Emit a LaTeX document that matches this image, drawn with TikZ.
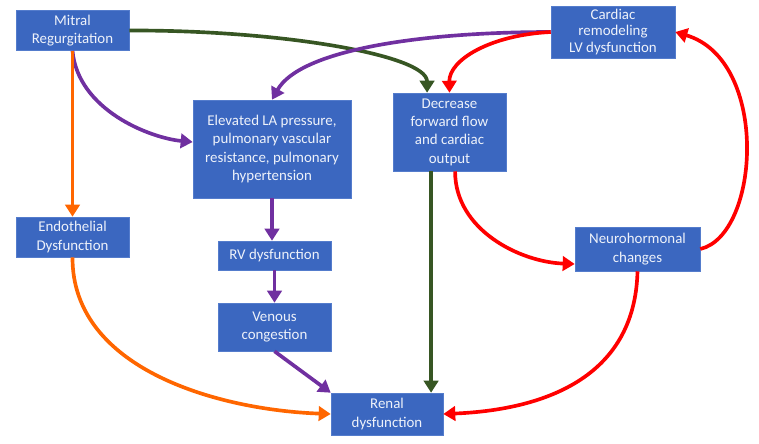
\documentclass[tikz,border=0pt]{standalone}
\usepackage{fontspec}
\setmainfont{Carlito}
\usetikzlibrary{arrows.meta, positioning}
\definecolor{boxblue}{RGB}{59,103,192}
\definecolor{boxedge}{RGB}{84,124,204}
\definecolor{boxtext}{RGB}{238,242,250}
\definecolor{mrpurple}{RGB}{112,48,160}
\definecolor{mrgreen}{RGB}{55,86,35}
\definecolor{mrorange}{RGB}{255,102,0}
\definecolor{mrred}{RGB}{255,0,0}
\tikzset{
    block/.style={rectangle, draw=boxedge, fill=boxblue, text=boxtext, align=center, inner sep=1pt, font=\fontsize{10.6}{13}\selectfont},
    link/.style={-{Triangle[length=3mm, width=3.6mm]}, line width=2.6pt}
}

\begin{document}
\begin{tikzpicture}[
    x=0.025cm, y=-0.025cm,
    volume/.style={link, color=mrpurple},
    forward/.style={link, color=mrgreen},
    vascular/.style={link, color=mrorange},
    neuro/.style={link, color=mrred}
]
    \useasboundingbox (0,0) rectangle (759,443);

    % Boxes
    \node[block, minimum width=2.825cm, minimum height=1cm] (mitral) at (72.5,30.5) {Mitral\\Regurgitation};
    \node[block, minimum width=3.95cm, minimum height=2.45cm] (elevated) at (272,149) {Elevated LA pressure,\\pulmonary vascular\\resistance, pulmonary\\hypertension};
    \node[block, minimum width=3.1cm, minimum height=1.3cm, font=\fontsize{10.6}{12}\selectfont] (cardiac) at (613,32) {Cardiac\\remodeling\\LV dysfunction};
    \node[block, minimum width=2.825cm, minimum height=1.95cm] (decrease) at (449.5,132) {Decrease\\forward flow\\and cardiac\\output};
    \node[block, minimum width=2.825cm, minimum height=1cm] (endothelial) at (72.5,237) {Endothelial\\Dysfunction};
    \node[block, minimum width=2.825cm, minimum height=0.725cm] (rv) at (274.5,255.5) {RV dysfunction};
    \node[block, minimum width=2.825cm, minimum height=1.2cm] (venous) at (274.5,327) {Venous\\congestion};
    \node[block, minimum width=3.125cm, minimum height=1.1cm] (hormonal) at (637.5,249) {Neurohormonal\\changes};
    \node[block, minimum width=2.8cm, minimum height=1.05cm] (renal) at (387,414) {Renal\\dysfunction};

    % Forward flow
    \draw[forward] (mitral.east) .. controls (280,30) and (427,55) .. ([xshift=-5.6mm]decrease.north);
    \draw[forward] ([xshift=-4.6mm]decrease.south) -- ([xshift=-4.6mm]decrease.south |- renal.north);

    % Congestion
    \draw[volume] (mitral.south) .. controls (78,110) and (150,138) .. ([yshift=1.75mm]elevated.west);
    \draw[volume] (cardiac.west) .. controls (420,32) and (300,50) .. (elevated.north);
    \draw[volume] (elevated.south) -- (elevated.south |- rv.north);
    \draw[volume] (rv.south) -- (rv.south |- venous.north);
    \draw[volume] (venous.south) -- (renal.north west);

    % Endothelium
    \draw[vascular] (mitral.south) -- (mitral.south |- endothelial.north);
    \draw[vascular] (endothelial.south) .. controls (72,370) and (220,410) .. (renal.west);

    % Neurohormonal loop
    \draw[neuro] (cardiac.west) .. controls (490,35) and (449,60) .. (decrease.north);
    \draw[neuro] ([xshift=1.4mm]decrease.south) .. controls (455,230) and (520,262) .. ([yshift=-3.75mm]hormonal.west);
    \draw[neuro] (hormonal.east) .. controls (760,235) and (770,60) .. (cardiac.east);
    \draw[neuro] (hormonal.south) .. controls (635,380) and (540,410) .. (renal.east);
\end{tikzpicture}
\end{document}
